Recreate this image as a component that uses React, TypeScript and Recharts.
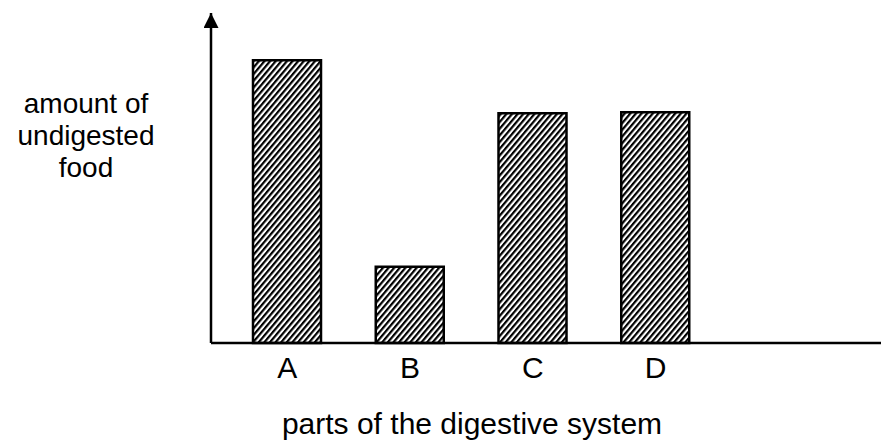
import { FC } from 'react';
import { Bar, BarChart, Label, XAxis, YAxis } from 'recharts';

const categories = ['A', 'B', 'C', 'D'];
const amounts = [85.7, 23.1, 69.6, 69.9];
const yLabelLines = ['amount of', 'undigested', 'food'];
const xLabel = 'parts of the digestive system';

const FONT = '"Liberation Sans", Arial, Helvetica, sans-serif';

const YTitle: FC = () => (
  <text textAnchor="middle" fill="#000" fontSize={28} fontFamily={FONT}>
    {yLabelLines.map((line, i) => (
      <tspan key={line} x={86} y={113 + i * 32}>
        {line}
      </tspan>
    ))}
  </text>
);

const XTitle: FC = () => (
  <text x={472} y={434} textAnchor="middle" fill="#000" fontSize={30} fontFamily={FONT}>
    {xLabel}
  </text>
);

export default function App() {
  const data = categories.map((part, i) => ({ part, amount: amounts[i] }));

  return (
    <div style={{ position: 'absolute', left: 0, top: 0, background: '#fff' }}>
      <BarChart
        width={881}
        height={440}
        data={data}
        margin={{ top: 13, right: 0, left: 0, bottom: 0 }}
        style={{ fontFamily: FONT }}
      >
        <defs>
          <pattern
            id="hatch"
            width={4.3}
            height={10}
            patternUnits="userSpaceOnUse"
            patternTransform="rotate(40)"
          >
            <rect width={4.3} height={10} fill="#fff" />
            <line x1={1} y1={0} x2={1} y2={10} stroke="#000" strokeWidth={2.4} />
          </pattern>
          <marker
            id="arrowUp"
            markerUnits="userSpaceOnUse"
            markerWidth={16}
            markerHeight={16}
            viewBox="0 0 16 16"
            refX={15}
            refY={7.5}
            orient="auto-start-reverse"
          >
            <path d="M0,0 L15,7.5 L0,15 Z" fill="#000" />
          </marker>
        </defs>
        <XAxis
          dataKey="part"
          height={97}
          padding={{ left: 15, right: 164 }}
          axisLine={{ stroke: '#000', strokeWidth: 2.5 }}
          tickLine={false}
          tickMargin={8}
          interval={0}
          tick={{ fill: '#000', fontSize: 30, fontFamily: FONT }}
        >
          <Label content={() => <XTitle />} />
        </XAxis>
        <YAxis
          width={211}
          domain={[0, 100]}
          tick={false}
          tickLine={false}
          axisLine={{ stroke: '#000', strokeWidth: 2.5, markerStart: 'url(#arrowUp)' }}
        >
          <Label content={() => <YTitle />} />
        </YAxis>
        <Bar
          dataKey="amount"
          fill="url(#hatch)"
          stroke="#000"
          strokeWidth={2.5}
          barSize={68}
          isAnimationActive={false}
        />
      </BarChart>
    </div>
  );
}
